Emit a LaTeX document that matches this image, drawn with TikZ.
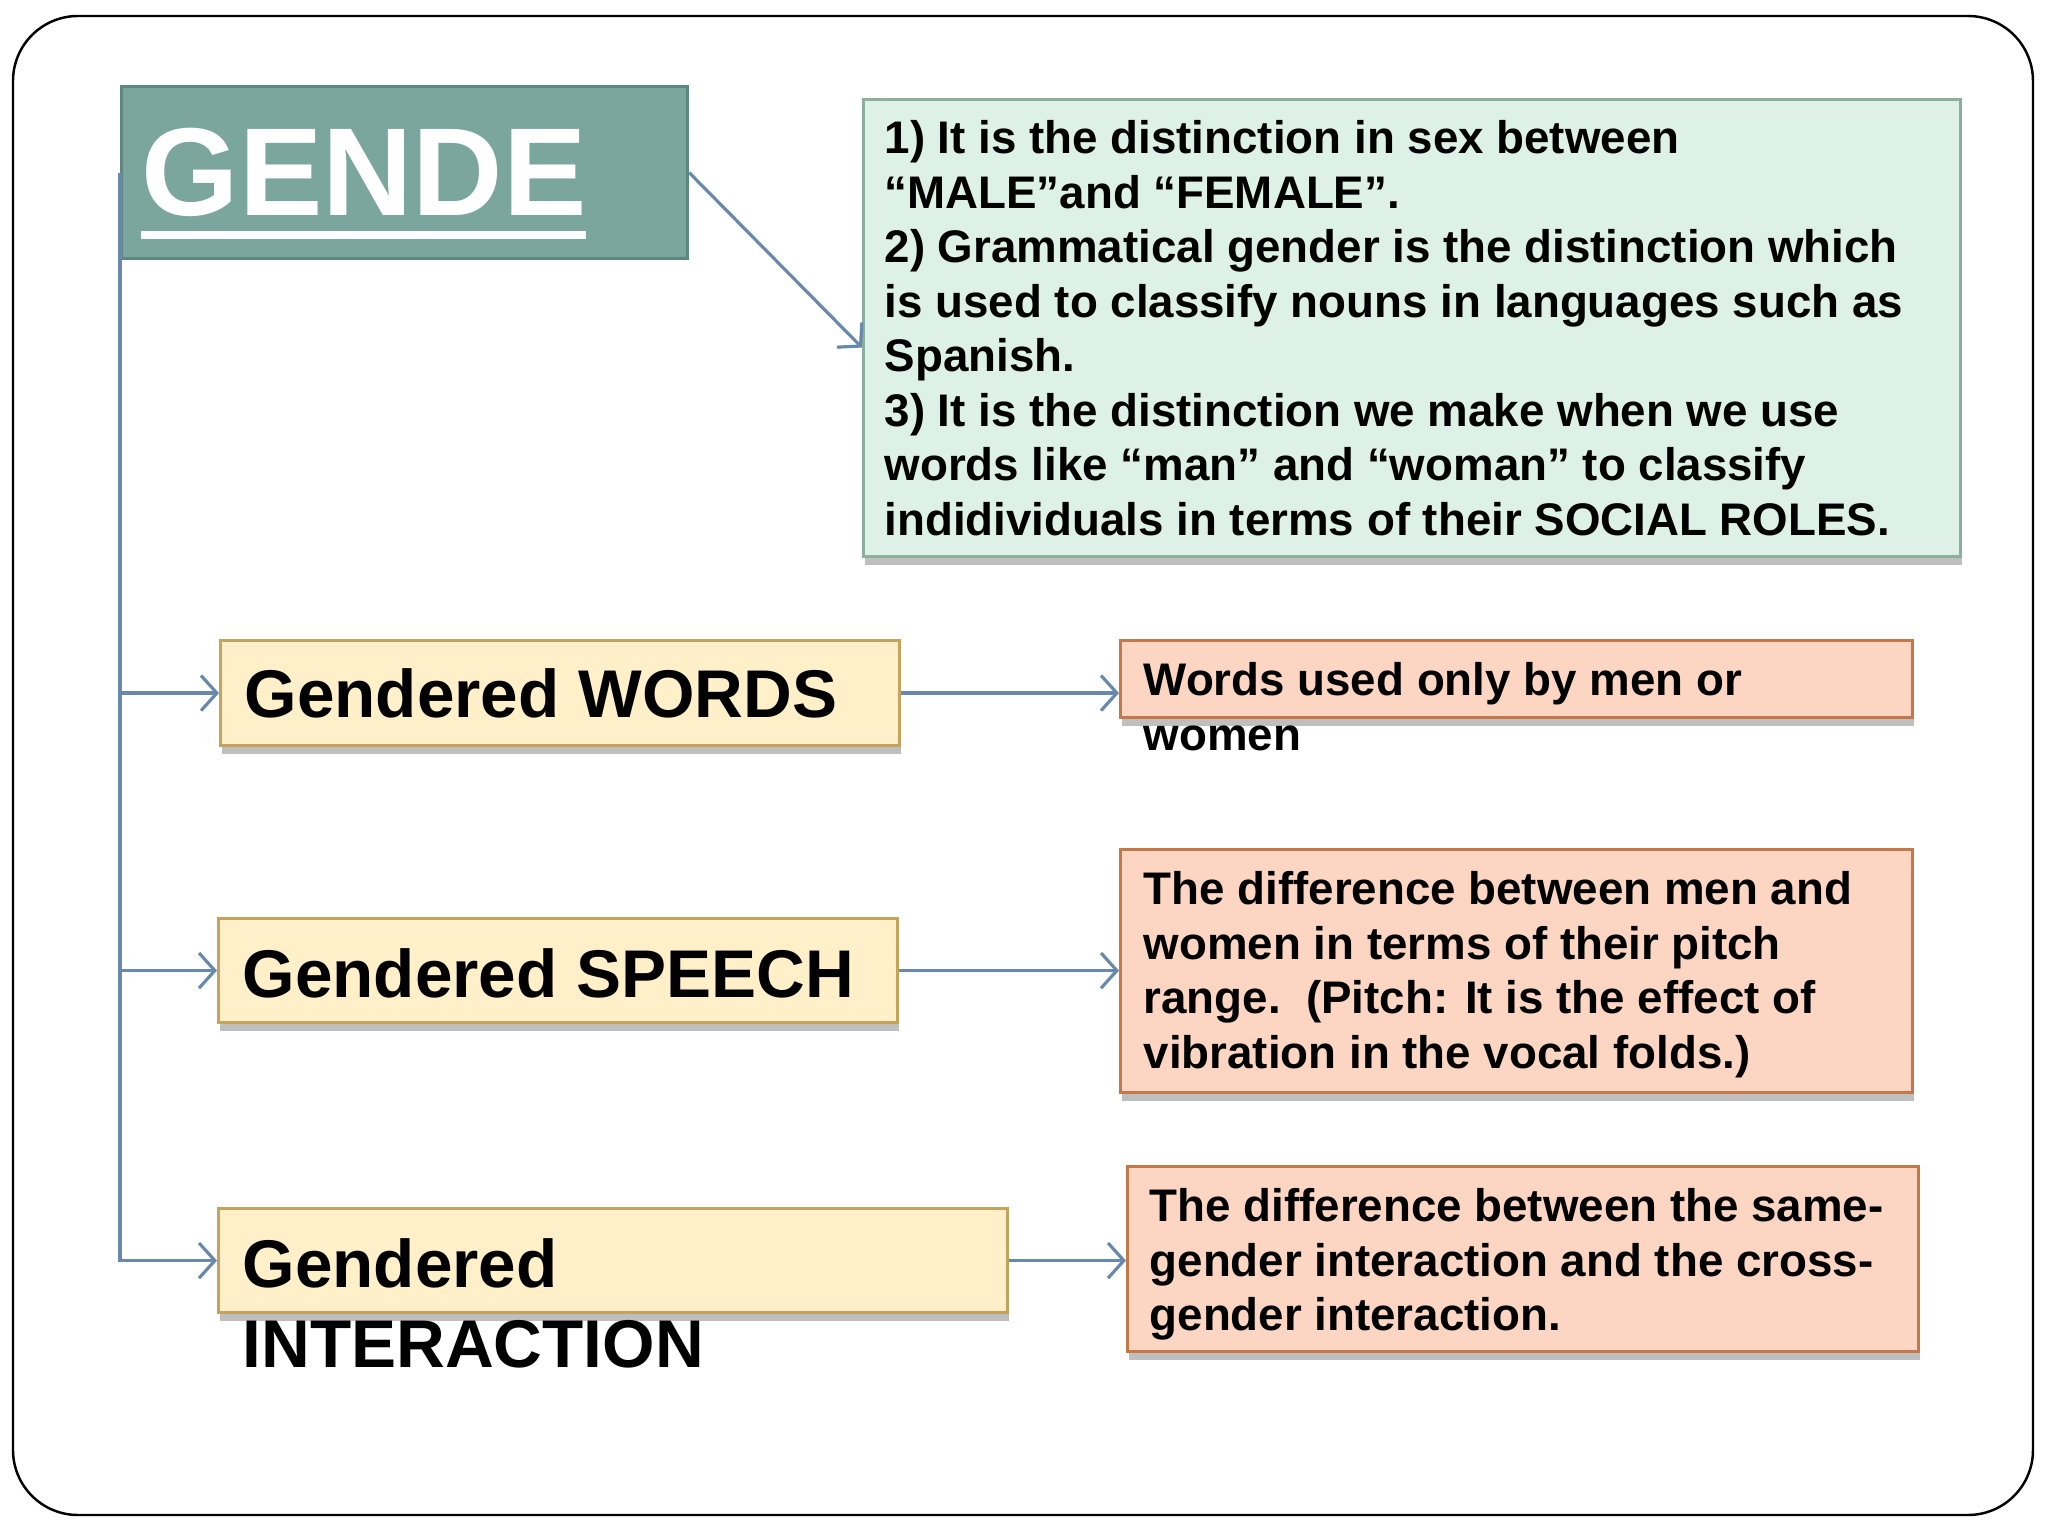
\documentclass[tikz,border=0pt]{standalone}
\usepackage{fontspec}
\setmainfont{Liberation Sans}
\usetikzlibrary{arrows.meta,shadows,calc}
\definecolor{linec}{RGB}{104,136,172}
\definecolor{gfill}{RGB}{123,166,158}
\definecolor{gdraw}{RGB}{94,135,125}
\definecolor{mint}{RGB}{222,241,232}
\definecolor{mintd}{RGB}{140,175,160}
\definecolor{yel}{RGB}{255,240,202}
\definecolor{yeld}{RGB}{196,164,92}
\definecolor{pinkf}{RGB}{252,214,194}
\definecolor{pinkd}{RGB}{196,120,72}
\tikzset{
  link/.style={draw=linec, line width=0.9pt, -{Straight Barb[length=4.5pt,width=10pt]}},
  boxbase/.style={rectangle, inner sep=0pt, anchor=north west, line width=0.9pt},
  shad/.style={drop shadow={shadow xshift=0.5pt, shadow yshift=-2.5pt, fill=black, opacity=0.25}},
  gbox/.style={boxbase, fill=gfill, draw=gdraw},
  mbox/.style={boxbase, shad, fill=mint, draw=mintd},
  ybox/.style={boxbase, shad, fill=yel, draw=yeld},
  pbox/.style={boxbase, shad, fill=pinkf, draw=pinkd},
  txt/.style={inner sep=0pt, align=left, anchor=north west, font=\fontsize{13}{15.5}\selectfont\bfseries},
  ytxt/.style={inner sep=0pt, align=left, font=\fontsize{19.2}{22.8}\selectfont\bfseries},
  gtxt/.style={inner sep=0pt, anchor=base west, text=white, font=\fontsize{35.6}{40}\selectfont\bfseries}
}
\begin{document}
\begin{tikzpicture}[x=1cm,y=-1cm]
\path[use as bounding box] (0,0) rectangle (20.48,15.36);
\fill[white] (0,0) rectangle (20.48,15.36);
\draw[line width=0.7pt, rounded corners=0.65cm] (0.13,0.16) rectangle (20.33,15.15);

% title box
\node[gbox, minimum width=5.66cm, minimum height=1.72cm] (g) at (1.20,0.85) {};
\node[gtxt] (gt) at (1.41,2.16) {GENDE};
\fill[white] (1.41,2.31) rectangle (5.86,2.39);

% definition box
\node[mbox, minimum width=10.97cm, minimum height=4.57cm] (m) at (8.62,0.98) {};
\node[txt] (mt) at (8.84,1.20) {1) It is the distinction in sex between\\
“MALE”and “FEMALE”.\\
2) Grammatical gender is the distinction which\\
is used to classify nouns in languages such as\\
Spanish.\\
3) It is the distinction we make when we use\\
words like “man” and “woman” to classify\\
indidividuals in terms of their SOCIAL ROLES.};

% yellow boxes
\node[ybox, minimum width=6.79cm, minimum height=1.05cm] (y1) at (2.19,6.39) {};
\node[ytxt, anchor=base west] (y1t) at (2.44,7.18) {Gendered WORDS};
\node[ybox, minimum width=6.79cm, minimum height=1.04cm] (y2) at (2.17,9.17) {};
\node[ytxt, anchor=base west] (y2t) at (2.42,9.97) {Gendered SPEECH};
\node[ybox, minimum width=7.89cm, minimum height=1.04cm] (y3) at (2.17,12.07) {};
\node[ytxt, anchor=north west] (y3t) at (2.42,12.38) {Gendered\\INTERACTION};

% pink boxes
\node[pbox, minimum width=7.92cm, minimum height=0.77cm] (p1) at (11.19,6.39) {};
\node[txt] (p1t) at (11.43,6.62) {Words used only by men or\\women};
\node[pbox, minimum width=7.92cm, minimum height=2.43cm] (p2) at (11.19,8.48) {};
\node[txt] (p2t) at (11.43,8.71) {The difference between men and\\
women in terms of their pitch\\
range.\ \ (Pitch: It is the effect of\\
vibration in the vocal folds.)};
\node[pbox, minimum width=7.91cm, minimum height=1.85cm] (p3) at (11.26,11.65) {};
\node[txt] (p3t) at (11.49,11.88) {The difference between the same-\\
gender interaction and the cross-\\
gender interaction.};

% connectors
\draw[link] (g.east) -- ([yshift=-0.195cm]m.west);
\draw[link] (g.west) |- (y3.west);
\draw[link] (g.west |- y1.west) -- (y1.west);
\draw[link] (g.west |- y2.west) -- (y2.west);
\draw[link] (y1.east) -- (y1.east -| p1.west);
\draw[link] (y2.east) -- (y2.east -| p2.west);
\draw[link] (y3.east) -- (y3.east -| p3.west);
\end{tikzpicture}
\end{document}
